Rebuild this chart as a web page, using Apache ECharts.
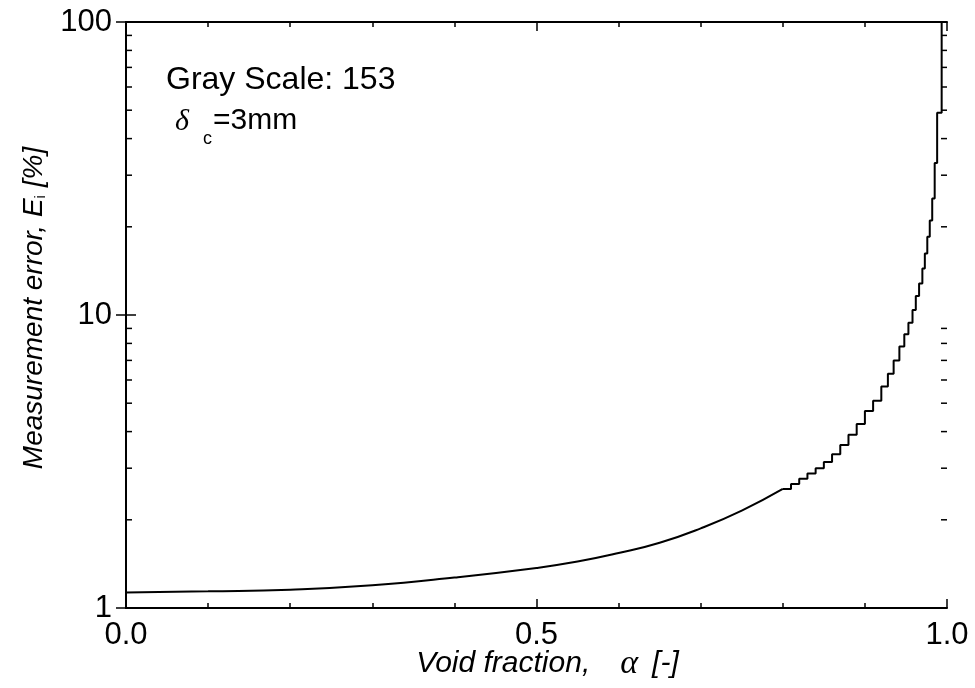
<!doctype html>
<html>
<head>
    <meta charset="utf-8">
    <title>measurement error</title>
    <script src="https://cdn.jsdelivr.net/npm/echarts@6/dist/echarts.min.js"></script>
    <style>
        body { margin: 0; background: #fff; }
        #container { width: 975px; height: 688px; }
    </style>
</head>
<body>
<div id="container"></div>
<script type="text/javascript">
    // smooth part of the curve
    var alphaSmooth = [0, 0.1, 0.2, 0.3, 0.4, 0.5, 0.55, 0.6, 0.65, 0.7, 0.75, 0.8];
    var errSmooth = [1.13, 1.14, 1.155, 1.195, 1.27, 1.37, 1.44, 1.54, 1.67, 1.87, 2.15, 2.55];
    // stepped (quantised) part towards alpha = 1
    var alphaTail = [0.8, 0.81, 0.82, 0.83, 0.84, 0.85, 0.86, 0.87, 0.88, 0.89, 0.9, 0.91, 0.92, 0.928, 0.935, 0.942, 0.948, 0.953, 0.958, 0.962, 0.966, 0.97, 0.973, 0.976, 0.979, 0.982, 0.985, 0.988, 0.9935];
    var errTail = [2.55, 2.65, 2.76, 2.88, 3.0, 3.15, 3.35, 3.6, 3.9, 4.25, 4.7, 5.1, 5.7, 6.3, 7.0, 7.8, 8.6, 9.4, 10.4, 11.6, 12.8, 14.4, 16.2, 18.5, 21, 25, 33, 49, 100];
    // log minor ticks
    var logMinor = [2, 3, 4, 5, 6, 7, 8, 9, 20, 30, 40, 50, 60, 70, 80, 90];
    var yTickLabels = ['1', '10', '100'];
    var xTickLabels = ['0.0', '0.5', '1.0'];

    var font = 'Liberation Sans, Arial, sans-serif';
    var serif = 'Liberation Serif, Times New Roman, serif';

    var smoothData = [];
    for (var i = 0; i < alphaSmooth.length; i++) smoothData.push([alphaSmooth[i], errSmooth[i]]);
    var tailData = [];
    for (var j = 0; j < alphaTail.length; j++) tailData.push([alphaTail[j], errTail[j]]);

    var xCommon = {
        type: 'value', min: 0, max: 1, interval: 0.5,
        axisLine: { lineStyle: { color: '#000', width: 2 } },
        axisTick: { inside: true, length: 9, lineStyle: { color: '#000', width: 1.5 } },
        minorTick: { show: true, splitNumber: 5, length: 5, lineStyle: { color: '#000', width: 1.5 } },
        splitLine: { show: false }
    };
    var yCommon = {
        type: 'log', logBase: 10, min: 1, max: 100,
        axisLine: { show: true, lineStyle: { color: '#000', width: 2 } },
        axisTick: { inside: true, length: 10, lineStyle: { color: '#000', width: 1.5 } },
        splitLine: { show: false }
    };

    var option = {
        animation: false,
        backgroundColor: '#fff',
        grid: { left: 126, right: 28, top: 22, bottom: 80, outerBoundsMode: 'none', containLabel: false },
        xAxis: [
            Object.assign({}, xCommon, {
                position: 'bottom',
                axisLabel: {
                    fontSize: 31, color: '#000', fontFamily: font, margin: 12,
                    formatter: function (v) { return xTickLabels[Math.round(v * 2)]; }
                },
                name: '{it|Void fraction,}{al|α}{it|[-]}',
                nameLocation: 'middle', nameGap: 41, nameMoveOverlap: false,
                nameTextStyle: {
                    lineHeight: 30,
                    padding: [0, 0, 0, 22],
                    rich: {
                        it: { fontSize: 30, fontStyle: 'italic', fontFamily: font, color: '#000', lineHeight: 30 },
                        al: { fontSize: 34, fontStyle: 'italic', fontFamily: serif, color: '#000', lineHeight: 30, padding: [0, 14, 0, 30] }
                    }
                }
            }),
            Object.assign({}, xCommon, { position: 'top', axisLabel: { show: false } })
        ],
        yAxis: [
            Object.assign({}, yCommon, {
                position: 'left',
                axisLabel: {
                    fontSize: 31, color: '#000', fontFamily: font, margin: 14,
                    formatter: function (v) { return yTickLabels[Math.round(Math.log10(v))]; }
                },
                name: '{it|Measurement error, E}{sub|i}{it| [%]}',
                nameLocation: 'middle', nameGap: 78, nameMoveOverlap: false,
                nameTextStyle: {
                    padding: [0, 0, 0, 14],
                    rich: {
                        it: { fontSize: 28, fontStyle: 'italic', fontFamily: font, color: '#000' },
                        sub: { fontSize: 15, fontFamily: font, color: '#000', verticalAlign: 'bottom' }
                    }
                }
            }),
            Object.assign({}, yCommon, { position: 'right', axisLabel: { show: false } })
        ],
        graphic: [{
            type: 'text', left: 166, top: 64,
            style: { text: 'Gray Scale: 153', fontSize: 32, fontFamily: font, fill: '#000' }
        }, {
            type: 'text', left: 175, top: 107,
            style: { text: 'δ', fontSize: 30, fontStyle: 'italic', fontFamily: serif, fill: '#000' }
        }, {
            type: 'text', left: 203, top: 130,
            style: { text: 'c', fontSize: 18, fontFamily: font, fill: '#000' }
        }, {
            type: 'text', left: 213, top: 106,
            style: { text: '=3mm', fontSize: 30, fontFamily: font, fill: '#000' }
        }],
        series: [{
            type: 'line', data: smoothData, smooth: true, symbol: 'none',
            xAxisIndex: 0, yAxisIndex: 0,
            lineStyle: { color: '#000', width: 2 }
        }, {
            type: 'line', data: tailData, step: 'end', symbol: 'none',
            xAxisIndex: 0, yAxisIndex: 0,
            lineStyle: { color: '#000', width: 2 }
        }, {
            type: 'custom', xAxisIndex: 0, yAxisIndex: 0,
            data: logMinor.map(function (v) { return [0, v]; }),
            renderItem: function (params, api) {
                var l = api.coord([0, api.value(1)]);
                var r = api.coord([1, api.value(1)]);
                var st = { stroke: '#000', lineWidth: 1.5 };
                return {
                    type: 'group',
                    children: [
                        { type: 'line', shape: { x1: l[0], y1: l[1], x2: l[0] + 6, y2: l[1] }, style: st },
                        { type: 'line', shape: { x1: r[0] - 6, y1: r[1], x2: r[0], y2: r[1] }, style: st }
                    ]
                };
            }
        }]
    };

    var myChart = echarts.init(document.getElementById('container'));
    myChart.setOption(option);
</script>
</body>
</html>
